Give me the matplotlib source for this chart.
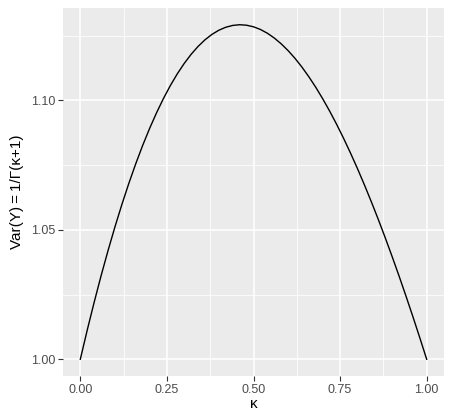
import numpy as np
import matplotlib
matplotlib.use("Agg")
import matplotlib.pyplot as plt
from matplotlib.ticker import MultipleLocator

# values
kappa = [0.00, 0.02, 0.04, 0.06, 0.08, 0.10, 0.12, 0.14, 0.16, 0.18, 0.20,
         0.22, 0.24, 0.26, 0.28, 0.30, 0.32, 0.34, 0.36, 0.38, 0.40,
         0.42, 0.44, 0.46, 0.48, 0.50, 0.52, 0.54, 0.56, 0.58, 0.60,
         0.62, 0.64, 0.66, 0.68, 0.70, 0.72, 0.74, 0.76, 0.78, 0.80,
         0.82, 0.84, 0.86, 0.88, 0.90, 0.92, 0.94, 0.96, 0.98, 1.00]
var_y = [1.00000, 1.01129, 1.02203, 1.03227, 1.04196, 1.05114, 1.05978,
         1.06789, 1.07549, 1.08257, 1.08912, 1.09515, 1.10069, 1.10571,
         1.11022, 1.11424, 1.11777, 1.12080, 1.12337, 1.12545, 1.12706,
         1.12821, 1.12891, 1.12918, 1.12899, 1.12838, 1.12735, 1.12590,
         1.12405, 1.12180, 1.11917, 1.11617, 1.11279, 1.10905, 1.10497,
         1.10055, 1.09579, 1.09072, 1.08534, 1.07965, 1.07368, 1.06741,
         1.06088, 1.05409, 1.04704, 1.03975, 1.03224, 1.02449, 1.01653,
         1.00836, 1.00000]

plt.rcParams['font.family'] = ['Liberation Sans', 'DejaVu Sans']

fig = plt.figure(figsize=(4.51, 4.17), dpi=100)
ax = fig.add_axes([63/451, 41/417, 381/451, 368/417])
ax.set_facecolor('#EBEBEB')
for s in ax.spines.values():
    s.set_visible(False)

ax.plot(kappa, var_y, color='black', lw=1.0, zorder=3)

ax.set_xlim(-0.05, 1.05)
lo, hi = min(var_y), max(var_y)
pad = (hi - lo) * 0.05
ax.set_ylim(lo - pad, hi + pad)

ax.xaxis.set_minor_locator(MultipleLocator(0.125))
ax.yaxis.set_minor_locator(MultipleLocator(0.025))
ax.set_xticks([0, 0.25, 0.5, 0.75, 1.0])
ax.set_xticklabels(['0.00', '0.25', '0.50', '0.75', '1.00'])
ax.set_yticks([1.0, 1.05, 1.10])
ax.set_yticklabels(['1.00', '1.05', '1.10'])

ax.grid(which='major', color='white', lw=1.1)
ax.grid(which='minor', color='white', lw=0.55)
ax.set_axisbelow(True)
ax.tick_params(which='major', length=3.5, width=0.8, color='#333333',
               labelcolor='#4D4D4D', labelsize=9, pad=2)
ax.tick_params(which='minor', length=0)

ax.set_xlabel('κ', fontsize=11, labelpad=1)
ax.set_ylabel('Var(Y)\u2009=\u20091/\u0393(κ+1)', fontsize=11, labelpad=5)

fig.savefig('out.png', dpi=100)
